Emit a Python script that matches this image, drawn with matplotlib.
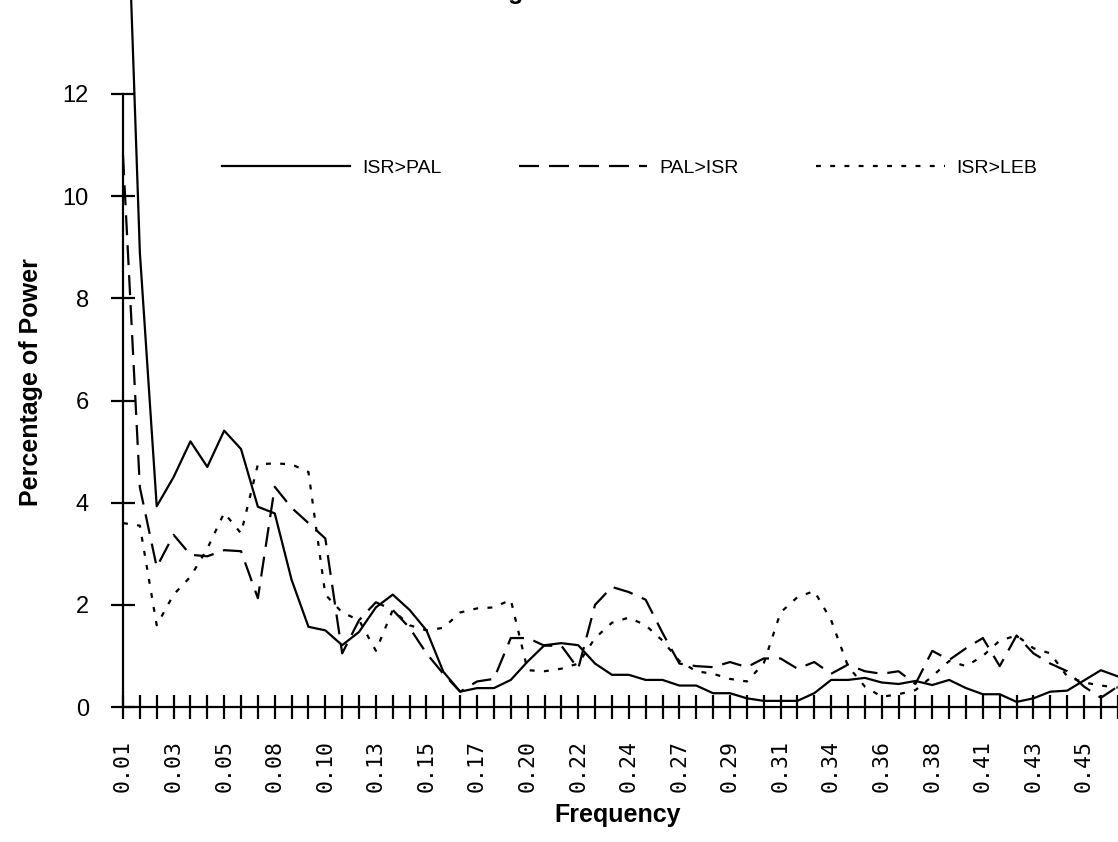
import numpy as np
import matplotlib
matplotlib.use("Agg")
import matplotlib.pyplot as plt
from matplotlib.transforms import ScaledTranslation

# spectral power by frequency bin (k/128), first 60 bins are visible
isr_pal = [18.5, 8.9, 3.93, 4.5, 5.2, 4.7, 5.41, 5.05, 3.92, 3.79,
           2.49, 1.57, 1.5, 1.21, 1.47, 1.95, 2.2, 1.9, 1.5, 0.69,
           0.3, 0.37, 0.37, 0.53, 0.89, 1.21, 1.25, 1.21, 0.85, 0.63,
           0.63, 0.53, 0.53, 0.42, 0.42, 0.27, 0.27, 0.17, 0.12, 0.12,
           0.12, 0.27, 0.53, 0.53, 0.57, 0.48, 0.45, 0.51, 0.43, 0.53,
           0.37, 0.25, 0.25, 0.1, 0.17, 0.3, 0.32, 0.52, 0.72, 0.6]
pal_isr = [10.8, 4.3, 2.74, 3.37, 2.98, 2.95, 3.07, 3.05, 2.13, 4.31,
           3.9, 3.6, 3.3, 1.05, 1.7, 2.05, 1.9, 1.55, 1.05, 0.65,
           0.3, 0.5, 0.55, 1.35, 1.35, 1.2, 1.2, 0.75, 2.0, 2.35,
           2.25, 2.1, 1.45, 0.85, 0.8, 0.78, 0.88, 0.78, 0.95, 0.95,
           0.75, 0.88, 0.65, 0.83, 0.7, 0.65, 0.7, 0.45, 1.1, 0.92,
           1.15, 1.35, 0.8, 1.4, 1.05, 0.85, 0.7, 0.4, 0.18, 0.4]
isr_leb = [3.6, 3.55, 1.6, 2.2, 2.55, 3.1, 3.8, 3.4, 4.75, 4.77,
           4.75, 4.6, 2.2, 1.85, 1.7, 1.1, 1.9, 1.6, 1.5, 1.55,
           1.85, 1.93, 1.95, 2.1, 0.72, 0.7, 0.75, 0.85, 1.35, 1.65,
           1.75, 1.6, 1.3, 0.9, 0.7, 0.65, 0.55, 0.5, 0.85, 1.85,
           2.15, 2.27, 1.7, 0.8, 0.4, 0.2, 0.25, 0.33, 0.6, 0.9,
           0.8, 1.0, 1.3, 1.4, 1.15, 1.05, 0.6, 0.48, 0.42, 0.38]

n_bins = 64
tick_labels = ["0.01", "0.03", "0.05", "0.08", "0.10", "0.13", "0.15",
               "0.17", "0.20", "0.22", "0.24", "0.27", "0.29", "0.31",
               "0.34", "0.36", "0.38", "0.41", "0.43", "0.45"]
series_names = ["ISR>PAL", "PAL>ISR", "ISR>LEB"]

sans = ["Liberation Sans", "DejaVu Sans"]

W, H = 1118, 842
fig = plt.figure(figsize=(W / 100, H / 100), dpi=100)
x0, y0, px_per_bin, y_top = 123, 707, 16.86, 94
xmax = n_bins - 1
ax = fig.add_axes([x0 / W, 1 - y0 / H, xmax * px_per_bin / W, (y0 - y_top) / H])

x = np.arange(len(isr_pal))
lw = 1.6
ax.plot(x, isr_pal, color="black", lw=lw, clip_on=False, label=series_names[0])
ax.plot(x, pal_isr, color="black", lw=lw, dashes=(9, 4.5), clip_on=False,
        label=series_names[1])
ax.plot(x, isr_leb, color="black", lw=lw, dashes=(2.2, 4.2), clip_on=False,
        label=series_names[2])

ax.set_xlim(0, xmax)
ax.set_ylim(0, 12)
ax.set_yticks(np.arange(0, 13, 2))
ax.set_yticklabels([str(v) for v in range(0, 13, 2)], family=sans, fontsize=17)

ax.set_xticks(np.arange(0, n_bins))
xt = [""] * n_bins
for j, lab in enumerate(tick_labels):
    xt[3 * j] = lab
ax.set_xticklabels(xt, rotation=90, family="DejaVu Sans Mono", fontsize=15.5)
for lab in ax.get_xticklabels():
    lab.set_transform(lab.get_transform() + ScaledTranslation(-6 / 100, 0, fig.dpi_scale_trans))

for s in ["top", "right"]:
    ax.spines[s].set_visible(False)
for s in ["left", "bottom"]:
    ax.spines[s].set_linewidth(1.6)
ax.tick_params(axis="both", direction="inout", length=17, width=1.6, color="black")
ax.tick_params(axis="x", pad=15)
ax.tick_params(axis="y", pad=16)

fig.text(618 / W, 1 - 815 / H, "Frequency", ha="center", va="center",
         family=sans, fontsize=18, fontweight="bold")
fig.text(31 / W, 1 - 382 / H, "Percentage of Power", ha="center", va="center",
         rotation=90, family=sans, fontsize=18, fontweight="bold")
# title is mostly cropped off in the original
fig.text(535 / W, 1 + 1.5 / H, "Figure 3", ha="center", va="baseline",
         family=sans, fontsize=18, fontweight="bold")

ax.legend(ncol=3, frameon=False, loc="center left",
          bbox_to_anchor=(222 / W, 1 - 168 / H), bbox_transform=fig.transFigure,
          handlelength=6.6, handletextpad=0.6, columnspacing=4.0,
          borderpad=0, borderaxespad=0, prop={"family": sans, "size": 14})

fig.savefig("out.png", dpi=100)
